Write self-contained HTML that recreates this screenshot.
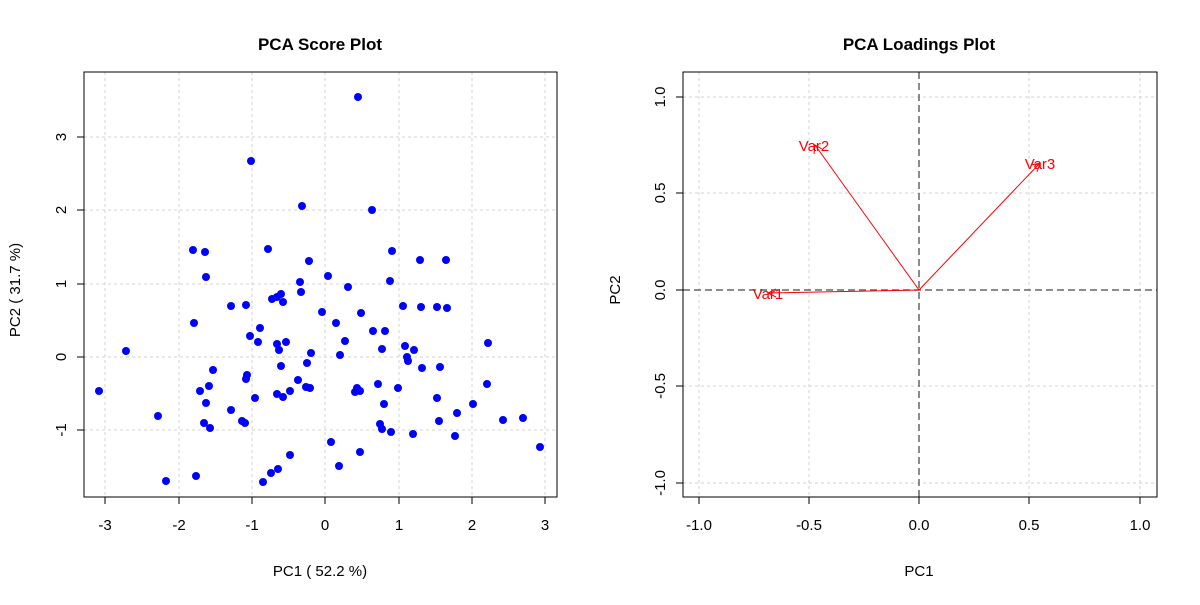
<!DOCTYPE html>
<html><head><meta charset="utf-8"><style>
body{margin:0;background:#fff;}
svg text{font-family:"Liberation Sans",Arial,sans-serif;}
</style></head><body>
<svg width="1200" height="600" xmlns="http://www.w3.org/2000/svg">
<rect width="1200" height="600" fill="#fff"/>
<!-- LEFT PLOT -->
<g stroke="#d3d3d3" stroke-dasharray="3,3" stroke-width="1">
<line x1="105" y1="72" x2="105" y2="497"/><line x1="179" y1="72" x2="179" y2="497"/><line x1="252" y1="72" x2="252" y2="497"/><line x1="325" y1="72" x2="325" y2="497"/><line x1="399" y1="72" x2="399" y2="497"/><line x1="472" y1="72" x2="472" y2="497"/><line x1="545" y1="72" x2="545" y2="497"/>
<line x1="84" y1="137" x2="557" y2="137"/><line x1="84" y1="210" x2="557" y2="210"/><line x1="84" y1="284" x2="557" y2="284"/><line x1="84" y1="357" x2="557" y2="357"/><line x1="84" y1="430" x2="557" y2="430"/>
</g>
<rect x="84" y="72" width="473" height="425" fill="none" stroke="#000"/>
<g stroke="#000">
<line x1="105" y1="497" x2="105" y2="504"/><line x1="179" y1="497" x2="179" y2="504"/><line x1="252" y1="497" x2="252" y2="504"/><line x1="325" y1="497" x2="325" y2="504"/><line x1="399" y1="497" x2="399" y2="504"/><line x1="472" y1="497" x2="472" y2="504"/><line x1="545" y1="497" x2="545" y2="504"/>
<line x1="77" y1="137" x2="84" y2="137"/><line x1="77" y1="210" x2="84" y2="210"/><line x1="77" y1="284" x2="84" y2="284"/><line x1="77" y1="357" x2="84" y2="357"/><line x1="77" y1="430" x2="84" y2="430"/>
</g>
<g font-size="15" text-anchor="middle" fill="#000">
<text x="105" y="530">-3</text><text x="179" y="530">-2</text><text x="252" y="530">-1</text><text x="325" y="530">0</text><text x="399" y="530">1</text><text x="472" y="530">2</text><text x="545" y="530">3</text>
<text transform="translate(66,137) rotate(-90)">3</text><text transform="translate(66,210) rotate(-90)">2</text><text transform="translate(66,284) rotate(-90)">1</text><text transform="translate(66,357) rotate(-90)">0</text><text transform="translate(66,430) rotate(-90)">-1</text>
<text x="320" y="576">PC1 ( 52.2 %)</text>
<text transform="translate(20,290) rotate(-90)">PC2 ( 31.7 %)</text>
<text x="320" y="50" font-weight="bold" font-size="17">PCA Score Plot</text>
</g>
<g fill="#0000ff">
<circle cx="358" cy="97" r="4"/><circle cx="251" cy="161" r="4"/><circle cx="302" cy="206" r="4"/><circle cx="372" cy="210" r="4"/><circle cx="193" cy="250" r="4"/><circle cx="205" cy="252" r="4"/><circle cx="268" cy="249" r="4"/><circle cx="392" cy="251" r="4"/><circle cx="309" cy="261" r="4"/><circle cx="206" cy="277" r="4"/><circle cx="420" cy="260" r="4"/><circle cx="446" cy="260" r="4"/><circle cx="328" cy="276" r="4"/><circle cx="390" cy="281" r="4"/><circle cx="300" cy="282" r="4"/><circle cx="348" cy="287" r="4"/><circle cx="231" cy="306" r="4"/><circle cx="246" cy="305" r="4"/><circle cx="281" cy="294" r="4"/><circle cx="272" cy="299" r="4"/><circle cx="277" cy="297" r="4"/><circle cx="283" cy="302" r="4"/><circle cx="301" cy="292" r="4"/><circle cx="361" cy="313" r="4"/><circle cx="403" cy="306" r="4"/><circle cx="421" cy="307" r="4"/><circle cx="437" cy="307" r="4"/><circle cx="447" cy="308" r="4"/><circle cx="194" cy="323" r="4"/><circle cx="260" cy="328" r="4"/><circle cx="250" cy="336" r="4"/><circle cx="322" cy="312" r="4"/><circle cx="336" cy="323" r="4"/><circle cx="373" cy="331" r="4"/><circle cx="385" cy="331" r="4"/><circle cx="277" cy="344" r="4"/><circle cx="286" cy="342" r="4"/><circle cx="279" cy="350" r="4"/><circle cx="258" cy="342" r="4"/><circle cx="345" cy="341" r="4"/><circle cx="126" cy="351" r="4"/><circle cx="311" cy="353" r="4"/><circle cx="340" cy="355" r="4"/><circle cx="382" cy="349" r="4"/><circle cx="405" cy="346" r="4"/><circle cx="414" cy="350" r="4"/><circle cx="407" cy="357" r="4"/><circle cx="488" cy="343" r="4"/><circle cx="213" cy="370" r="4"/><circle cx="307" cy="363" r="4"/><circle cx="247" cy="375" r="4"/><circle cx="422" cy="368" r="4"/><circle cx="440" cy="367" r="4"/><circle cx="408" cy="361" r="4"/><circle cx="209" cy="386" r="4"/><circle cx="99" cy="391" r="4"/><circle cx="200" cy="391" r="4"/><circle cx="281" cy="366" r="4"/><circle cx="290" cy="391" r="4"/><circle cx="298" cy="380" r="4"/><circle cx="306" cy="387" r="4"/><circle cx="310" cy="388" r="4"/><circle cx="246" cy="379" r="4"/><circle cx="277" cy="394" r="4"/><circle cx="283" cy="397" r="4"/><circle cx="357" cy="388" r="4"/><circle cx="360" cy="391" r="4"/><circle cx="378" cy="384" r="4"/><circle cx="398" cy="388" r="4"/><circle cx="487" cy="384" r="4"/><circle cx="255" cy="398" r="4"/><circle cx="355" cy="392" r="4"/><circle cx="206" cy="403" r="4"/><circle cx="231" cy="410" r="4"/><circle cx="242" cy="421" r="4"/><circle cx="245" cy="423" r="4"/><circle cx="384" cy="404" r="4"/><circle cx="437" cy="398" r="4"/><circle cx="473" cy="404" r="4"/><circle cx="158" cy="416" r="4"/><circle cx="204" cy="423" r="4"/><circle cx="457" cy="413" r="4"/><circle cx="439" cy="421" r="4"/><circle cx="503" cy="420" r="4"/><circle cx="523" cy="418" r="4"/><circle cx="380" cy="424" r="4"/><circle cx="382" cy="429" r="4"/><circle cx="391" cy="432" r="4"/><circle cx="413" cy="434" r="4"/><circle cx="455" cy="436" r="4"/><circle cx="210" cy="428" r="4"/><circle cx="331" cy="442" r="4"/><circle cx="540" cy="447" r="4"/><circle cx="360" cy="452" r="4"/><circle cx="290" cy="455" r="4"/><circle cx="339" cy="466" r="4"/><circle cx="166" cy="481" r="4"/><circle cx="196" cy="476" r="4"/><circle cx="278" cy="469" r="4"/><circle cx="271" cy="473" r="4"/><circle cx="263" cy="482" r="4"/>
</g>
<!-- RIGHT PLOT -->
<g stroke="#d3d3d3" stroke-dasharray="3,3" stroke-width="1">
<line x1="699" y1="72" x2="699" y2="497"/><line x1="809" y1="72" x2="809" y2="497"/><line x1="1029" y1="72" x2="1029" y2="497"/><line x1="1140" y1="72" x2="1140" y2="497"/>
<line x1="683" y1="97" x2="1157" y2="97"/><line x1="683" y1="193" x2="1157" y2="193"/><line x1="683" y1="386" x2="1157" y2="386"/><line x1="683" y1="483" x2="1157" y2="483"/>
</g>
<g stroke="#666" stroke-dasharray="7,4" stroke-width="1.5">
<line x1="919" y1="72" x2="919" y2="497"/><line x1="683" y1="290" x2="1157" y2="290"/>
</g>
<rect x="683" y="72" width="474" height="425" fill="none" stroke="#000"/>
<g stroke="#000">
<line x1="699" y1="497" x2="699" y2="504"/><line x1="809" y1="497" x2="809" y2="504"/><line x1="919" y1="497" x2="919" y2="504"/><line x1="1029" y1="497" x2="1029" y2="504"/><line x1="1140" y1="497" x2="1140" y2="504"/>
<line x1="676" y1="97" x2="683" y2="97"/><line x1="676" y1="193" x2="683" y2="193"/><line x1="676" y1="290" x2="683" y2="290"/><line x1="676" y1="386" x2="683" y2="386"/><line x1="676" y1="483" x2="683" y2="483"/>
</g>
<g font-size="15" text-anchor="middle" fill="#000">
<text x="699" y="530">-1.0</text><text x="809" y="530">-0.5</text><text x="919" y="530">0.0</text><text x="1029" y="530">0.5</text><text x="1140" y="530">1.0</text>
<text transform="translate(665,97) rotate(-90)">1.0</text><text transform="translate(665,193) rotate(-90)">0.5</text><text transform="translate(665,290) rotate(-90)">0.0</text><text transform="translate(665,386) rotate(-90)">-0.5</text><text transform="translate(665,483) rotate(-90)">-1.0</text>
<text x="919" y="576">PC1</text>
<text transform="translate(620,290) rotate(-90)">PC2</text>
<text x="919" y="50" font-weight="bold" font-size="17">PCA Loadings Plot</text>
</g>
<g stroke="#ff0000" stroke-width="1" fill="none">
<line x1="919" y1="290" x2="768" y2="293"/><polyline points="776,289 768,293 776,297"/>
<line x1="919" y1="290" x2="815" y2="145"/><polyline points="814,154 815,145 822,149"/>
<line x1="919" y1="290" x2="1040" y2="163"/><polyline points="1031,165 1040,163 1037,172"/>
</g>
<g font-size="15" text-anchor="middle" fill="#ff0000">
<text x="768" y="299">Var1</text><text x="814" y="151">Var2</text><text x="1040" y="169">Var3</text>
</g>
</svg>
</body></html>
